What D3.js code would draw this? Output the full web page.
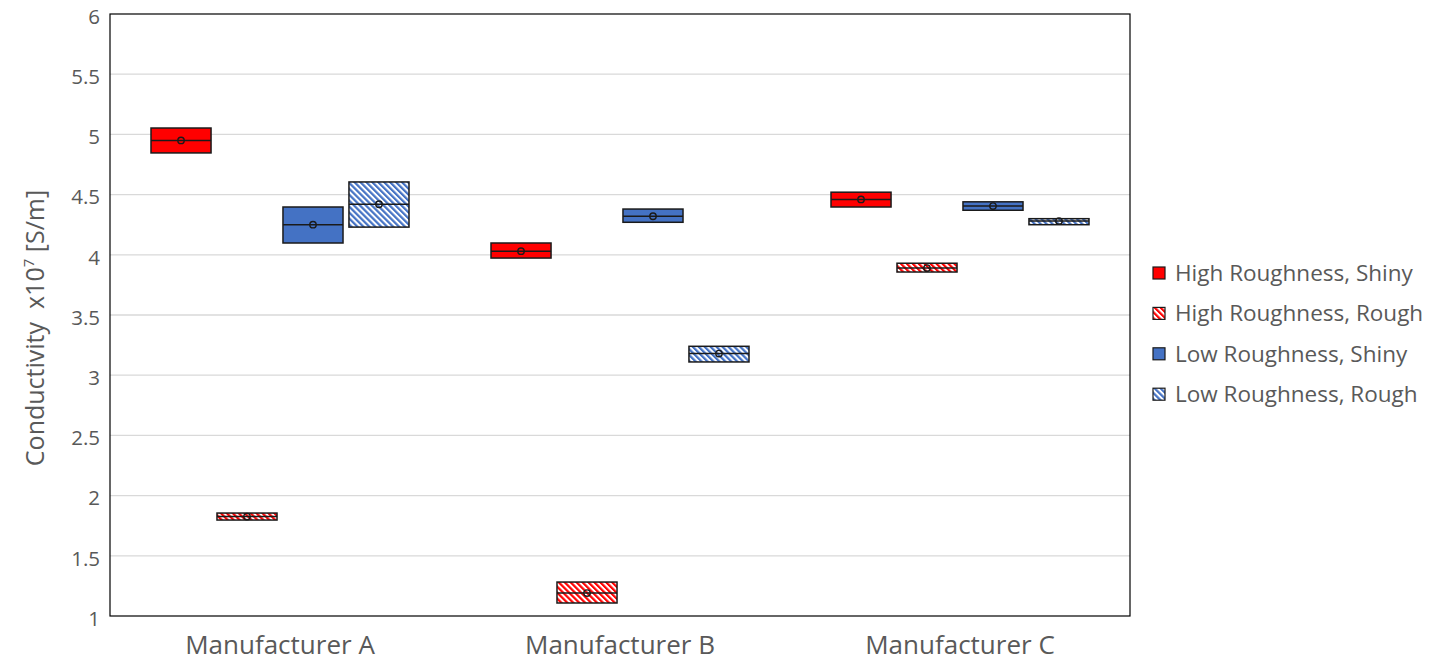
<!DOCTYPE html>
<html>
<head>
<meta charset="utf-8">
<script src="https://cdn.jsdelivr.net/npm/d3@7"></script>
<style>
  body { margin: 0; background: #fff; }
  svg { display: block; }
  text { font-family: "Open Sans", "Noto Sans", sans-serif; fill: #595959; }
</style>
</head>
<body>
<svg id="chart" width="1429" height="662"></svg>
<script>
// Categories and series
const manufacturers = ["Manufacturer A", "Manufacturer B", "Manufacturer C"];
const seriesNames = ["High Roughness, Shiny", "High Roughness, Rough", "Low Roughness, Shiny", "Low Roughness, Rough"];

// Box statistics per series, one value per manufacturer (conductivity x10^7 S/m)
const lowerQuartile = [
  [4.846, 3.973, 4.397],
  [1.797, 1.108, 3.857],
  [4.098, 4.270, 4.370],
  [4.230, 3.110, 4.250]
];
const medianValue = [
  [4.950, 4.030, 4.460],
  [1.826, 1.190, 3.890],
  [4.250, 4.320, 4.405],
  [4.420, 3.180, 4.280]
];
const upperQuartile = [
  [5.053, 4.098, 4.520],
  [1.855, 1.282, 3.930],
  [4.397, 4.380, 4.440],
  [4.605, 3.240, 4.300]
];
const meanValue = [
  [4.950, 4.030, 4.460],
  [1.826, 1.190, 3.890],
  [4.250, 4.320, 4.405],
  [4.420, 3.180, 4.280]
];

const yTicks = [1, 1.5, 2, 2.5, 3, 3.5, 4, 4.5, 5, 5.5, 6];

const svg = d3.select("#chart");
const plot = { left: 110, right: 1130, top: 14, bottom: 616 };

const x = d3.scaleBand().domain(manufacturers).range([plot.left, plot.right]).padding(0);
const xInner = d3.scaleBand().domain(d3.range(seriesNames.length))
  .range([41, x.bandwidth() - 41]).paddingInner(0.09).paddingOuter(0);
const y = d3.scaleLinear().domain([1, 6]).range([plot.bottom, plot.top]);

// Hatch patterns for the "Rough" series (stripes running top-left to bottom-right)
const defs = svg.append("defs");
function hatch(id, color) {
  const p = defs.append("pattern").attr("id", id)
    .attr("patternUnits", "userSpaceOnUse").attr("width", 4.2).attr("height", 4.2)
    .attr("patternTransform", "rotate(-45)");
  p.append("rect").attr("width", 4.2).attr("height", 4.2).attr("fill", "#fff");
  p.append("rect").attr("width", 2.2).attr("height", 4.2).attr("fill", color);
}
hatch("hatchRed", "#ff0000");
hatch("hatchBlue", "#4472c4");

const fills = ["#ff0000", "url(#hatchRed)", "#4472c4", "url(#hatchBlue)"];

// Gridlines
svg.append("g")
  .selectAll("line").data(yTicks.filter(t => t > 1 && t < 6)).join("line")
  .attr("x1", plot.left).attr("x2", plot.right)
  .attr("y1", d => y(d)).attr("y2", d => y(d))
  .attr("stroke", "#d9d9d9").attr("stroke-width", 1.3);

// Y axis tick labels
const yAxis = d3.axisLeft(y).tickValues(yTicks).tickSize(0).tickPadding(10).tickFormat(d3.format("~g"));
const gy = svg.append("g").attr("transform", `translate(${plot.left},0)`).call(yAxis);
gy.select(".domain").remove();
gy.selectAll("text").attr("font-size", 20.5).attr("fill", "#595959")
  .attr("dy", "0.45em")
  .style("font-family", '"Open Sans", sans-serif');

// X axis category labels
const xAxis = d3.axisBottom(x).tickSize(0).tickPadding(20);
const gx = svg.append("g").attr("transform", `translate(0,${plot.bottom})`).call(xAxis);
gx.select(".domain").remove();
gx.selectAll("text").attr("font-size", 26).attr("fill", "#595959")
  .style("font-family", '"Open Sans", sans-serif');

// Boxes
const boxes = [];
seriesNames.forEach((s, si) => {
  manufacturers.forEach((m, mi) => {
    boxes.push({
      si, m,
      q1: lowerQuartile[si][mi], med: medianValue[si][mi],
      q3: upperQuartile[si][mi], mean: meanValue[si][mi]
    });
  });
});

const gBoxes = svg.append("g");
const bw = xInner.bandwidth();
const bg = gBoxes.selectAll("g").data(boxes).join("g")
  .attr("transform", d => `translate(${x(d.m) + xInner(d.si)},0)`);
bg.append("rect")
  .attr("x", 0).attr("width", bw)
  .attr("y", d => y(d.q3)).attr("height", d => y(d.q1) - y(d.q3))
  .attr("fill", d => fills[d.si])
  .attr("stroke", "#1a1a1a").attr("stroke-width", 1.5);
bg.append("line")
  .attr("x1", 0).attr("x2", bw)
  .attr("y1", d => y(d.med)).attr("y2", d => y(d.med))
  .attr("stroke", "#1a1a1a").attr("stroke-width", 1.5);
bg.append("circle")
  .attr("cx", bw / 2).attr("cy", d => y(d.mean)).attr("r", 3.2)
  .attr("fill", "none").attr("stroke", "#1a1a1a").attr("stroke-width", 1.4);

// Plot border
svg.append("rect")
  .attr("x", plot.left).attr("y", plot.top)
  .attr("width", plot.right - plot.left).attr("height", plot.bottom - plot.top)
  .attr("fill", "none").attr("stroke", "#000").attr("stroke-width", 1.2);

// Y axis title
svg.append("text")
  .attr("transform", `translate(44,328) rotate(-90)`)
  .attr("text-anchor", "middle").attr("font-size", 25)
  .html('Conductivity&#160;&#160;x10<tspan dy="-10" font-size="15">7</tspan><tspan dy="10"> [S/m]</tspan>');

// Legend
const legend = svg.append("g").attr("transform", "translate(1153,273)");
const li = legend.selectAll("g").data(seriesNames).join("g")
  .attr("transform", (d, i) => `translate(0,${i * 40.4})`);
li.append("rect").attr("x", 0).attr("y", -6).attr("width", 12).attr("height", 12)
  .attr("fill", (d, i) => fills[i]).attr("stroke", "#1a1a1a").attr("stroke-width", 1.2);
li.append("text").attr("x", 22).attr("y", 0).attr("dy", "0.35em")
  .attr("font-size", 22.5).text(d => d);
</script>
</body>
</html>
